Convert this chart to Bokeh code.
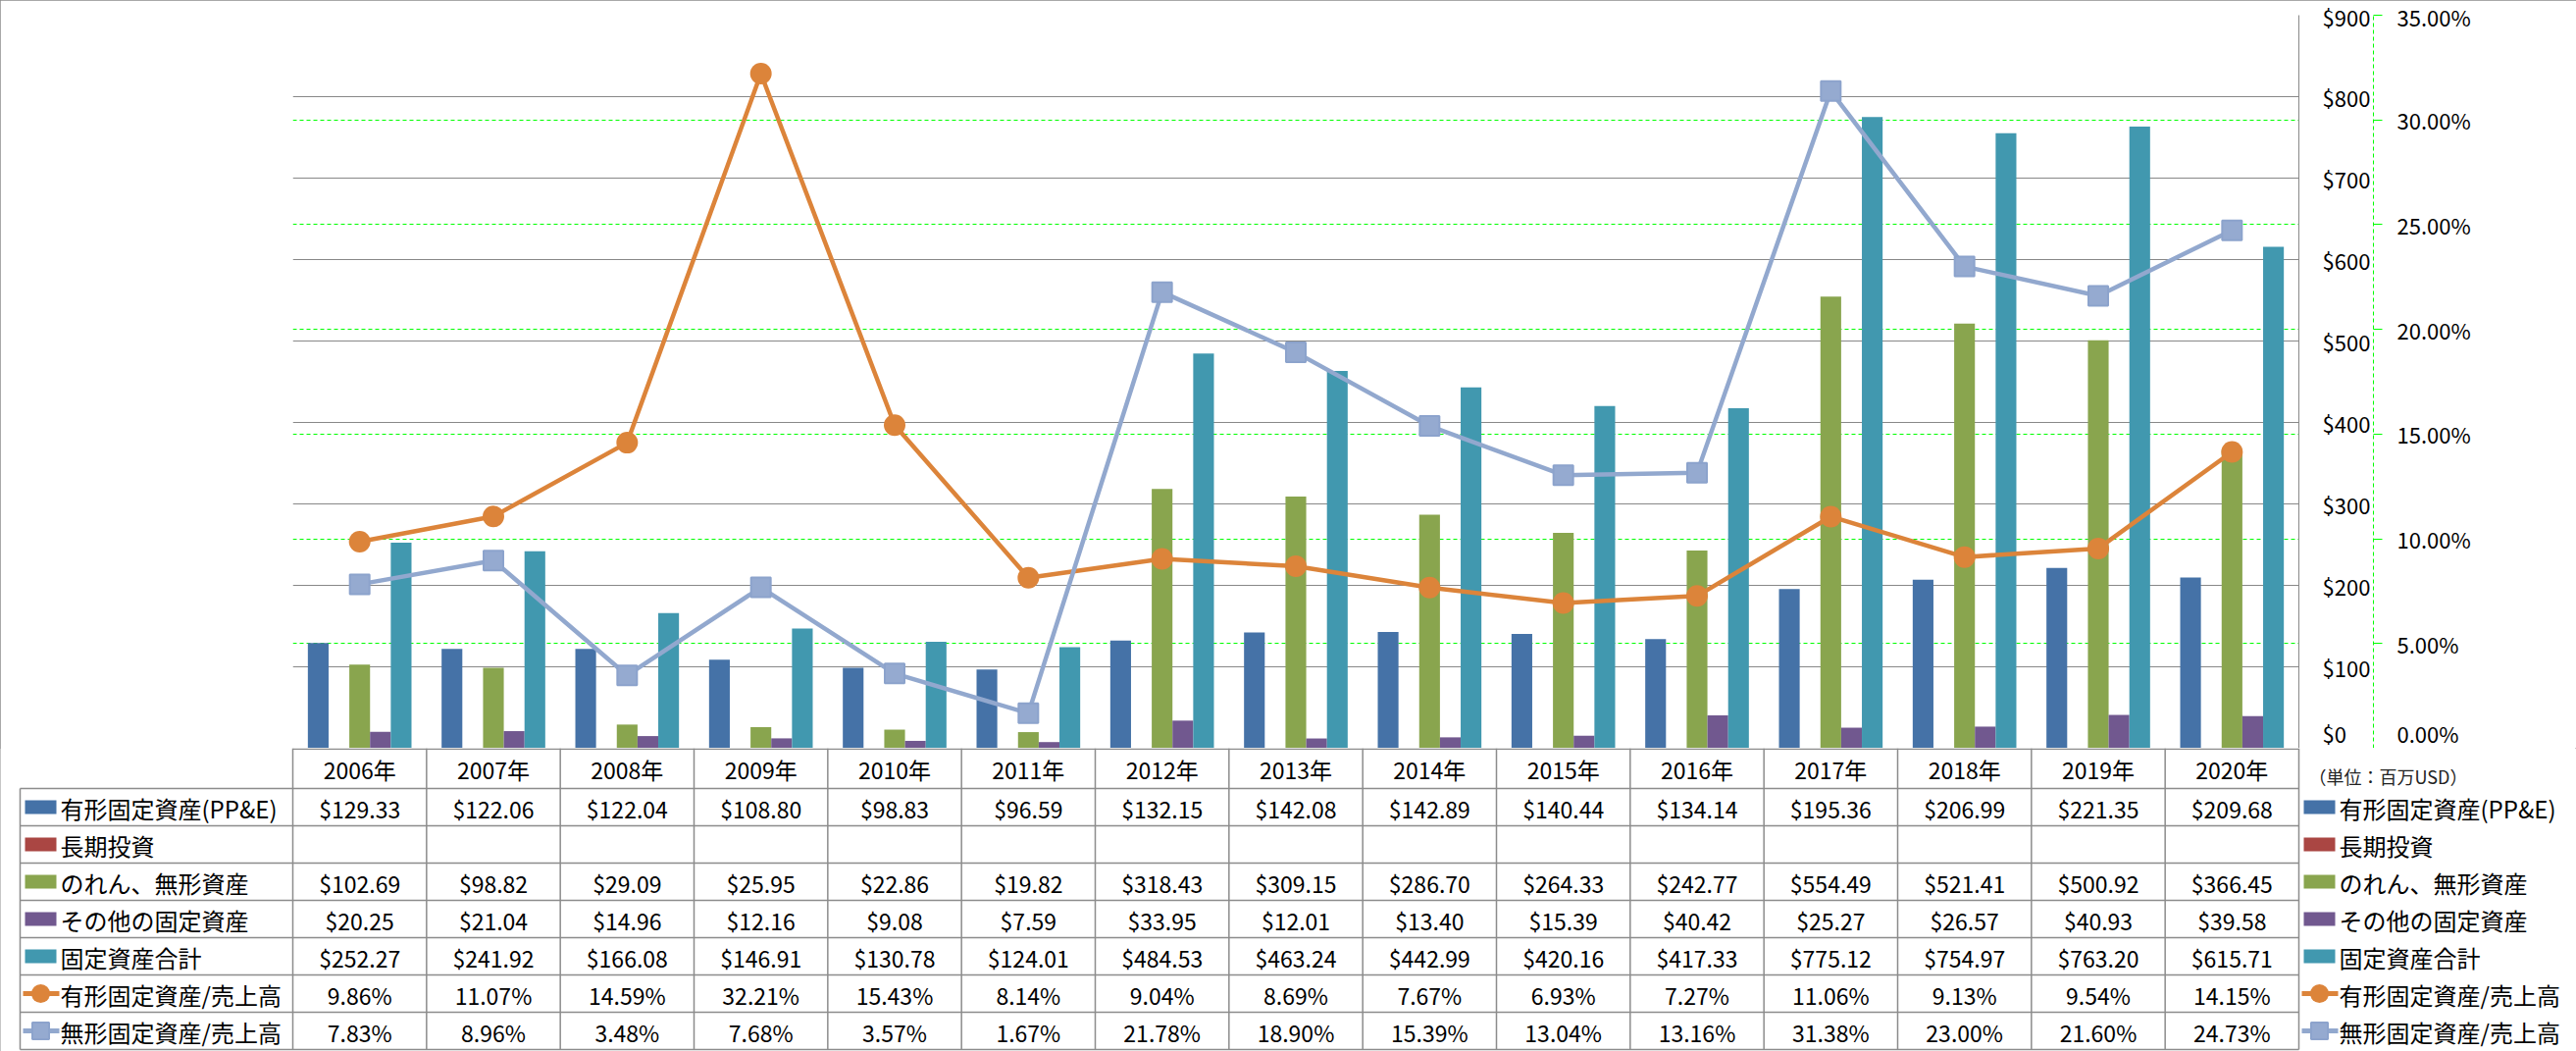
from bokeh.plotting import figure
from bokeh.models import (ColumnDataSource, Range1d, FactorRange, LinearAxis, FixedTicker,
                          PrintfTickFormatter, Grid)
from bokeh.transform import dodge
from bokeh.layouts import column
from bokeh.core.properties import value
from bokeh.embed import file_html
from bokeh.resources import INLINE

# ---------------- data ----------------
years = ["2006年", "2007年", "2008年", "2009年", "2010年", "2011年", "2012年", "2013年",
         "2014年", "2015年", "2016年", "2017年", "2018年", "2019年", "2020年"]
ppe = [129.33, 122.06, 122.04, 108.80, 98.83, 96.59, 132.15, 142.08, 142.89, 140.44,
       134.14, 195.36, 206.99, 221.35, 209.68]
long_term_inv = [None] * 15
goodwill = [102.69, 98.82, 29.09, 25.95, 22.86, 19.82, 318.43, 309.15, 286.70, 264.33,
            242.77, 554.49, 521.41, 500.92, 366.45]
other_fixed = [20.25, 21.04, 14.96, 12.16, 9.08, 7.59, 33.95, 12.01, 13.40, 15.39,
               40.42, 25.27, 26.57, 40.93, 39.58]
total_fixed = [252.27, 241.92, 166.08, 146.91, 130.78, 124.01, 484.53, 463.24, 442.99,
               420.16, 417.33, 775.12, 754.97, 763.20, 615.71]
ppe_ratio = [9.86, 11.07, 14.59, 32.21, 15.43, 8.14, 9.04, 8.69, 7.67, 6.93, 7.27,
             11.06, 9.13, 9.54, 14.15]
intang_ratio = [7.83, 8.96, 3.48, 7.68, 3.57, 1.67, 21.78, 18.90, 15.39, 13.04, 13.16,
                31.38, 23.00, 21.60, 24.73]

series_names = ["有形固定資産(PP&E)", "長期投資", "のれん、無形資産", "その他の固定資産",
                "固定資産合計", "有形固定資産/売上高", "無形固定資産/売上高"]
usd_ticks = [0, 100, 200, 300, 400, 500, 600, 700, 800, 900]
pct_ticks = [0, 5, 10, 15, 20, 25, 30, 35]
unit_label = "（単位：百万USD）"

# ---------------- style ----------------
C_BLUE, C_RED, C_GREEN, C_PURPLE, C_TEAL = "#4572A7", "#AA4643", "#89A54E", "#71588F", "#4198AF"
C_ORANGE, C_SLATE = "#DC843A", "#92A8CE"
GRID_GRAY = "#888888"
LIME = "#00FF00"
FONT_NAME = "Noto Sans CJK JP"
FONT = value(FONT_NAME)

W = 2626
PLOT_L, PLOT_R = 298, 2343
CHART_H = 762
TABLE_H = 1071 - CHART_H
NCAT = len(years)
CW = (PLOT_R - PLOT_L) / NCAT

def nz(v):
    return float("nan") if v is None else v

src = ColumnDataSource(dict(
    year=years, ppe=ppe, lti=[nz(v) for v in long_term_inv], goodwill=goodwill,
    other=other_fixed, total=total_fixed, ppe_r=ppe_ratio, int_r=intang_ratio))

# ---------------- chart ----------------
p = figure(width=W, height=CHART_H, x_range=FactorRange(factors=years), y_range=Range1d(0, 900),
           output_backend="svg", toolbar_location=None, x_axis_location=None,
           y_axis_location="right", min_border_left=PLOT_L, min_border_right=W - PLOT_R,
           min_border_top=15, min_border_bottom=0, outline_line_color=None,
           background_fill_color="white", border_fill_color="white", frame_align=False)
p.xgrid.visible = False
p.ygrid.grid_line_color = GRID_GRAY
p.ygrid.grid_line_width = 1
p.ygrid.ticker = FixedTicker(ticks=usd_ticks)

ax1 = p.yaxis[0]
ax1.ticker = FixedTicker(ticks=usd_ticks)
ax1.formatter = PrintfTickFormatter(format="$%d")
ax1.axis_line_color = GRID_GRAY
ax1.major_tick_out = 0
ax1.major_tick_in = 0
ax1.minor_tick_out = 0
ax1.minor_tick_in = 0
ax1.major_label_standoff = 24
ax1.major_label_text_font = FONT_NAME
ax1.major_label_text_font_size = "22px"
ax1.major_label_text_color = "black"

p.extra_y_ranges = {"pct": Range1d(0, 35)}
ax2 = LinearAxis(y_range_name="pct", ticker=FixedTicker(ticks=pct_ticks),
                 formatter=PrintfTickFormatter(format="%.2f%%"))
ax2.axis_line_color = LIME
ax2.axis_line_dash = "4 3"
ax2.major_tick_line_color = LIME
ax2.major_tick_out = 9
ax2.major_tick_in = 0
ax2.minor_tick_out = 0
ax2.minor_tick_in = 0
ax2.major_label_standoff = 15
ax2.major_label_text_font = FONT_NAME
ax2.major_label_text_font_size = "22px"
ax2.major_label_text_color = "black"
p.add_layout(ax2, "right")

g2 = Grid(dimension=1, axis=ax2, ticker=ax2.ticker, y_range_name="pct",
          grid_line_color=LIME, grid_line_dash="4 3", grid_line_width=1)
p.add_layout(g2)

bar_cols = [("ppe", C_BLUE, -0.31), ("lti", C_RED, -0.155), ("goodwill", C_GREEN, 0.0),
            ("other", C_PURPLE, 0.155), ("total", C_TEAL, 0.31)]
for col, colr, off in bar_cols:
    p.vbar(x=dodge("year", off, range=p.x_range), top=col, width=0.155, source=src,
           fill_color=colr, line_color=None)

p.line(x="year", y="ppe_r", source=src, y_range_name="pct", line_color=C_ORANGE, line_width=4.5)
p.scatter(x="year", y="ppe_r", source=src, y_range_name="pct", marker="circle", size=22,
          fill_color=C_ORANGE, line_color=None)
p.line(x="year", y="int_r", source=src, y_range_name="pct", line_color=C_SLATE, line_width=4.5)
p.scatter(x="year", y="int_r", source=src, y_range_name="pct", marker="square", size=20,
          fill_color="#95AAD0", line_color="#8CA3CC", line_width=2)

# ---------------- data table ----------------
t = figure(width=W, height=TABLE_H,
           x_range=Range1d(-PLOT_L / CW, (W - PLOT_L) / CW), y_range=Range1d(TABLE_H, 0),
           output_backend="svg", toolbar_location=None, x_axis_location=None,
           y_axis_location=None, min_border_left=0, min_border_right=0, min_border_top=0,
           min_border_bottom=0, outline_line_color=None, background_fill_color="white",
           border_fill_color="white", frame_align=False)
t.xgrid.visible = False
t.ygrid.visible = False

def px(xpix):
    return (xpix - PLOT_L) / CW

HEAD_H = 41
ROW_H = 38
nrows = len(series_names)
row_tops = [HEAD_H + ROW_H * k for k in range(nrows + 1)]
row_mid = [HEAD_H + ROW_H * k + ROW_H / 2 for k in range(nrows)]

# border lines
hx0, hx1, hy = [0], [NCAT], [0.75]
for y in row_tops:
    hx0.append(px(20)); hx1.append(NCAT); hy.append(y)
t.segment(x0=hx0, x1=hx1, y0=hy, y1=hy, line_color="#8C8C8C", line_width=1.5)
vx = [px(20)] + [i for i in range(NCAT + 1)]
vy0 = [HEAD_H] + [0] * (NCAT + 1)
vy1 = [row_tops[-1]] * (NCAT + 2)
t.segment(x0=vx, x1=vx, y0=vy0, y1=vy1, line_color="#8C8C8C", line_width=1.5)

# header texts
t.text(x=[i + 0.5 for i in range(NCAT)], y=[HEAD_H / 2 + 1] * NCAT, text=years,
       text_align="center", text_baseline="middle", text_font=FONT,
       text_font_size="23px", text_color="black")

def fmt_usd(v):
    return "" if v is None else "${:.2f}".format(v)

def fmt_pct(v):
    return "" if v is None else "{:.2f}%".format(v)

rows = [[fmt_usd(v) for v in ppe], [fmt_usd(v) for v in long_term_inv],
        [fmt_usd(v) for v in goodwill], [fmt_usd(v) for v in other_fixed],
        [fmt_usd(v) for v in total_fixed], [fmt_pct(v) for v in ppe_ratio],
        [fmt_pct(v) for v in intang_ratio]]
tx, ty, tt = [], [], []
for k, r in enumerate(rows):
    for i, s in enumerate(r):
        tx.append(i + 0.5); ty.append(row_mid[k] + 1); tt.append(s)
t.text(x=tx, y=ty, text=tt, text_align="center", text_baseline="middle", text_font=FONT,
       text_font_size="23px", text_color="black")

# legend keys and labels (left of table and right of table)
key_colors = [C_BLUE, C_RED, C_GREEN, C_PURPLE, C_TEAL]
for key_l, text_l in [(25, 61), (2348, 2384)]:
    kc = px(key_l + 16)
    t.rect(x=[kc] * 5, y=row_mid[:5], width=32, height=14, width_units="screen",
           height_units="screen", fill_color=key_colors, line_color=None)
    for k, colr, mk, sz in [(5, C_ORANGE, "circle", 19), (6, C_SLATE, "square", 17)]:
        t.segment(x0=[px(key_l - 2)], x1=[px(key_l + 35)], y0=[row_mid[k]], y1=[row_mid[k]],
                  line_color=colr, line_width=5)
        if mk == "circle":
            t.scatter(x=[kc], y=[row_mid[k]], marker=mk, size=sz, fill_color=colr, line_color=None)
        else:
            t.scatter(x=[kc], y=[row_mid[k]], marker=mk, size=sz, fill_color="#95AAD0",
                      line_color="#8CA3CC", line_width=2)
    t.text(x=[px(text_l)] * nrows, y=[m + 1 for m in row_mid], text=series_names,
           text_align="left", text_baseline="middle", text_font=FONT,
           text_font_size="24px", text_color="black")

t.text(x=[px(2353)], y=[28], text=[unit_label], text_align="left", text_baseline="middle",
       text_font=FONT, text_font_size="18px", text_color="#222222")

layout = column(p, t, spacing=0,
                styles={"outline": "1px solid #8C8C8C", "outline-offset": "-1px"})

open("out.html", "w").write(file_html(layout, INLINE))
